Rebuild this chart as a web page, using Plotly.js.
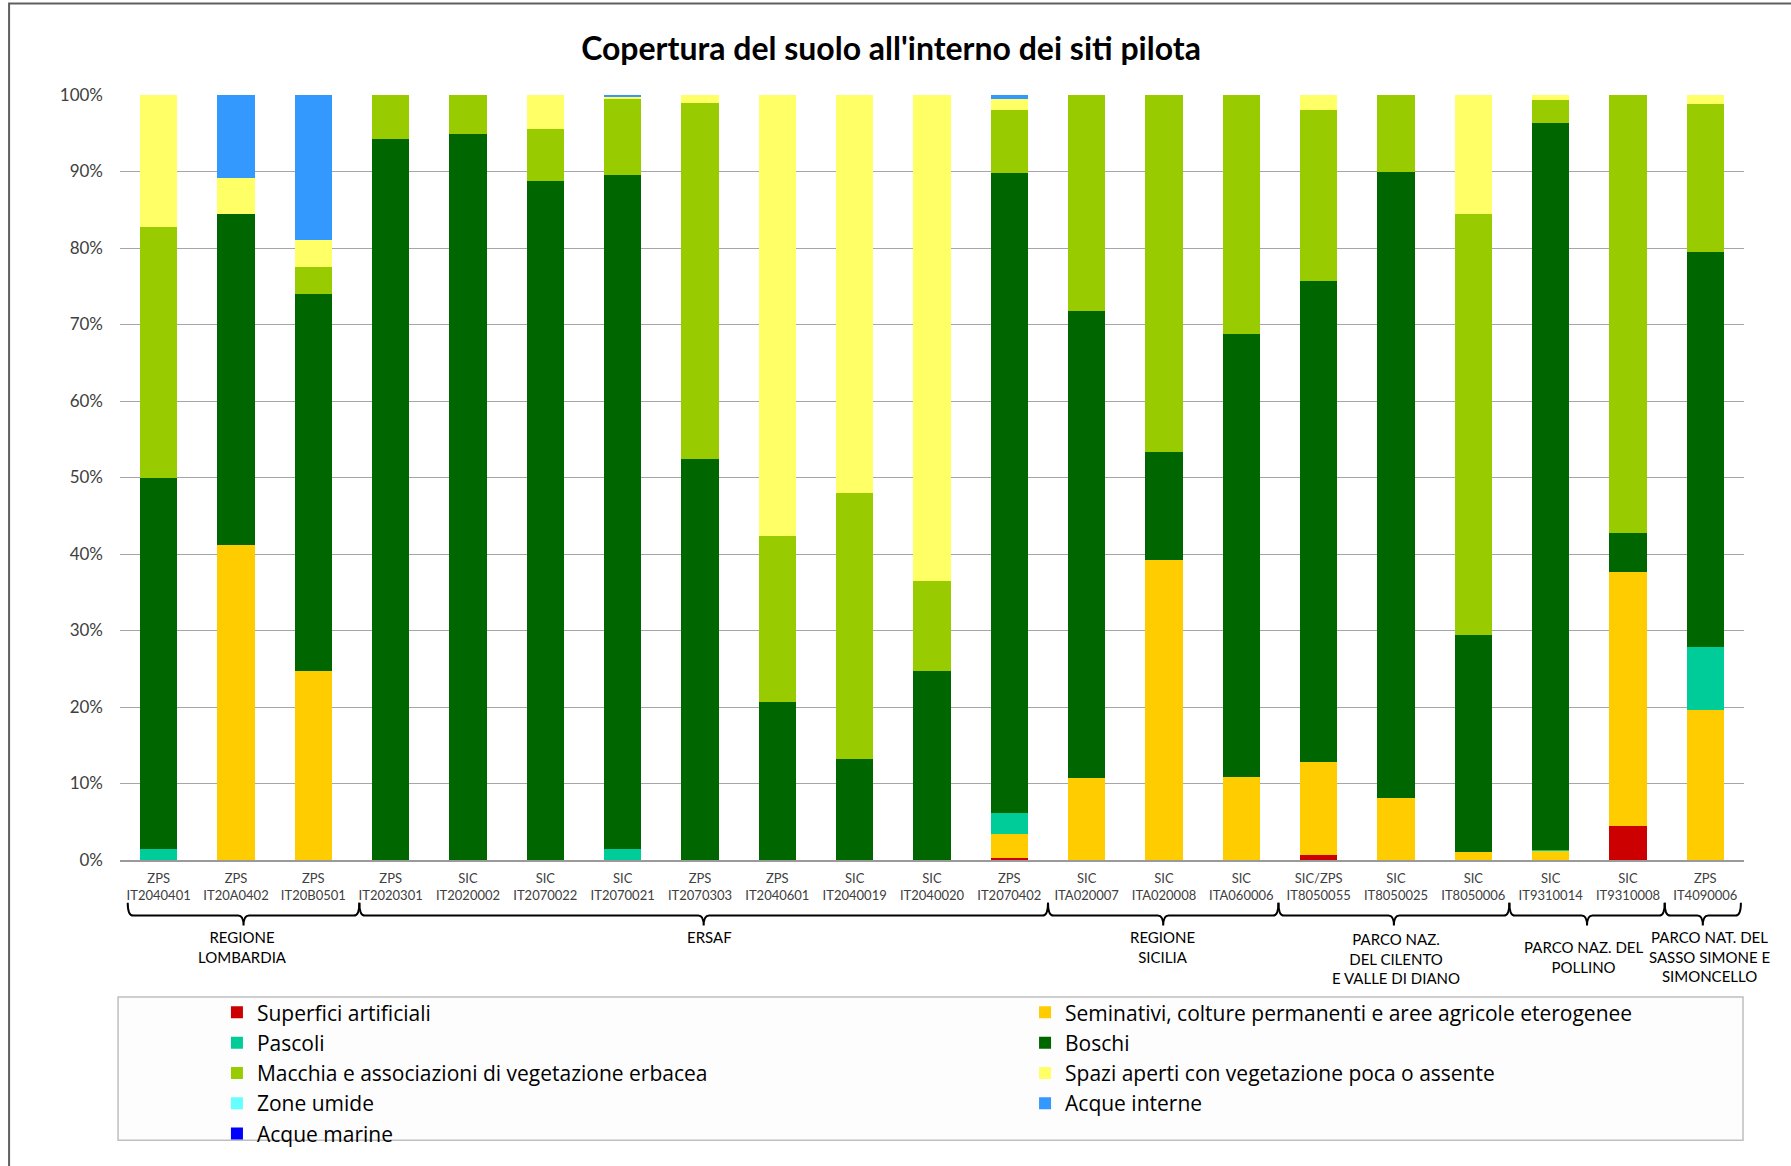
<!DOCTYPE html>
<html>
<head>
<meta charset="utf-8">
<script src="https://cdn.plot.ly/plotly-3.0.1.min.js"></script>
<style>
html,body{margin:0;padding:0;background:#ffffff;}
#chart{width:1791px;height:1166px;}
</style>
</head>
<body>
<div id="chart"></div>
<script>
// ---- DATA ----
const siteTypes = ["ZPS","ZPS","ZPS","ZPS","SIC","SIC","SIC","ZPS","ZPS","SIC","SIC","ZPS","SIC","SIC","SIC","SIC/ZPS","SIC","SIC","SIC","SIC","ZPS"];
const siteCodes = ["IT2040401","IT20A0402","IT20B0501","IT2020301","IT2020002","IT2070022","IT2070021","IT2070303","IT2040601","IT2040019","IT2040020","IT2070402","ITA020007","ITA020008","ITA060006","IT8050055","IT8050025","IT8050006","IT9310014","IT9310008","IT4090006"];

const superficiArtificiali = [0,0,0,0,0,0,0,0,0,0,0,0.3,0,0,0,0.7,0,0,0,4.5,0];
const seminativi          = [0,41.2,24.7,0,0,0,0,0,0,0,0,3.1,10.7,39.2,10.9,12.1,8.1,1.0,1.2,33.2,19.6];
const pascoli             = [1.4,0,0,0,0,0,1.4,0,0,0,0,2.8,0,0,0,0,0,0,0.1,0,8.2];
const boschi              = [48.6,43.2,49.3,94.3,94.9,88.8,88.1,52.4,20.7,13.2,24.7,83.6,61.1,14.1,57.9,62.9,81.9,28.4,95.0,5.0,51.7];
const macchia             = [32.7,0,3.5,5.7,5.1,6.7,10.0,46.6,21.7,34.8,11.8,8.2,28.2,46.7,31.2,22.3,10.0,55.1,3.0,57.3,19.3];
const spaziAperti         = [17.3,4.8,3.5,0,0,4.5,0.3,1.0,57.6,52.0,63.5,1.5,0,0,0,2.0,0,15.5,0.7,0,1.2];
const zoneUmide           = [0,0,0,0,0,0,0,0,0,0,0,0,0,0,0,0,0,0,0,0,0];
const acqueInterne        = [0,10.8,19.0,0,0,0,0.2,0,0,0,0,0.5,0,0,0,0,0,0,0,0,0];
const acqueMarine         = [0,0,0,0,0,0,0,0,0,0,0,0,0,0,0,0,0,0,0,0,0];

const seriesNames = ["Superfici artificiali","Seminativi, colture permanenti e aree agricole eterogenee","Pascoli","Boschi","Macchia e associazioni di vegetazione erbacea","Spazi aperti con vegetazione poca o assente","Zone umide","Acque interne","Acque marine"];
const seriesColors = ["#CC0000","#FFCC00","#00CC99","#006600","#99CC00","#FFFF66","#66FFFF","#3399FF","#0000FF"];
const seriesLegend = ["legend","legend2","legend","legend2","legend","legend2","legend","legend2","legend"];

const groupLabels = ["REGIONE<br>LOMBARDIA","ERSAF","REGIONE<br>SICILIA","PARCO NAZ.<br>DEL CILENTO<br>E VALLE DI DIANO","PARCO NAZ. DEL<br>POLLINO","PARCO NAT. DEL<br>SASSO SIMONE E<br>SIMONCELLO"];
const groupStart = [-0.40, 2.595, 11.50, 14.48, 17.466, 19.475];
const groupEnd   = [2.595, 11.50, 14.48, 17.466, 19.475, 20.46];
const groupLabelX = [1.08, 7.12, 12.98, 16.0, 18.43, 20.06];
const groupLabelY = [-0.0863, -0.0863, -0.0863, -0.0883, -0.0995, -0.0866];

const yTickVals = [0,10,20,30,40,50,60,70,80,90,100];
const yTickText = yTickVals.map(v => v + "%");
const title = "Copertura del suolo all'interno dei siti pilota";

// ---- BUILD ----
const categories = siteCodes.map((c,i) => siteTypes[i] + "<br>" + c);
const allSeries = [superficiArtificiali, seminativi, pascoli, boschi, macchia, spaziAperti, zoneUmide, acqueInterne, acqueMarine];

const FONT = "Lato, 'Liberation Sans', Arial, sans-serif";
const LEGFONT = "'Open Sans', Lato, sans-serif";

const traces = allSeries.map((vals, k) => ({
  type: "bar",
  name: seriesNames[k],
  x: categories,
  y: vals,
  legend: seriesLegend[k],
  marker: {color: seriesColors[k], line: {width: 0}},
  hoverinfo: "name+y"
}));

// curly braces below the axis
const yHook = -0.0558, yLine = -0.0727, yTip = -0.0857;
const shapes = [];
// outer chart border
shapes.push({type:"rect", xref:"paper", yref:"paper", x0:-0.0683, x1:1.04, y0:-0.41, y1:1.1195,
  line:{color:"#5f5f5f", width:2}, fillcolor:"rgba(0,0,0,0)", layer:"below"});
// legend box
shapes.push({type:"rect", xref:"paper", yref:"paper", x0:-0.0012, x1:0.9994, y0:-0.3662, y1:-0.1792,
  line:{color:"#bfbfbf", width:1.5}, fillcolor:"#fdfdfd", layer:"below"});
groupStart.forEach((s, i) => {
  const e = groupEnd[i];
  const c = (s + e) / 2;
  const d = 0.07;
  const p = `M ${s},${yHook} Q ${s},${yLine} ${s+d},${yLine} L ${c-d},${yLine} Q ${c},${yLine} ${c},${yTip} Q ${c},${yLine} ${c+d},${yLine} L ${e-d},${yLine} Q ${e},${yLine} ${e},${yHook}`;
  shapes.push({type:"path", xref:"x", yref:"paper", path:p, line:{color:"#000000", width:2}});
});

const annotations = groupLabels.map((t, i) => ({
  xref:"x", yref:"paper",
  x:groupLabelX[i], y:groupLabelY[i],
  xanchor:"center", yanchor:"top",
  text:t, showarrow:false, align:"center",
  font:{family:FONT, size:15, color:"#000000"}
}));

const layout = {
  width:1791, height:1166,
  paper_bgcolor:"#ffffff", plot_bgcolor:"#ffffff",
  margin:{l:120, r:47, t:95, b:301, pad:0},
  font:{family:FONT, color:"#000000"},
  title:{text:"<b>" + title + "</b>", x:0.4975, xref:"container", xanchor:"center",
         y:0.958, yref:"container", yanchor:"middle",
         font:{family:FONT, size:32, color:"#000000"}},
  barmode:"stack",
  barnorm:"percent",
  bargap:0.52,
  showlegend:true,
  xaxis:{type:"category", range:[-0.5, 20.5], autorange:false, showgrid:false, showline:true, linecolor:"#9a9a9a", linewidth:1.5,
         ticks:"outside", ticklen:6, tickcolor:"rgba(0,0,0,0)",
         tickfont:{family:FONT, size:13, color:"#404040"}, tickangle:0, automargin:false, fixedrange:true},
  yaxis:{range:[0,100], autorange:false, tickmode:"array", tickvals:yTickVals, ticktext:yTickText,
         showgrid:true, gridcolor:"#a6a6a6", gridwidth:1, ticklabelstandoff:16,
         zeroline:false, showline:false, ticks:"", tickfont:{family:FONT, size:17, color:"#404040"},
         automargin:false, fixedrange:true},
  legend:{x:0.0597, xanchor:"left", y:-0.1728, yanchor:"top", orientation:"v",
          bgcolor:"rgba(0,0,0,0)", borderwidth:0, traceorder:"normal",
          font:{family:LEGFONT, size:21, color:"#000000"}},
  legend2:{x:0.5573, xanchor:"left", y:-0.1728, yanchor:"top", orientation:"v",
          bgcolor:"rgba(0,0,0,0)", borderwidth:0, traceorder:"normal",
          font:{family:LEGFONT, size:21, color:"#000000"}},
  shapes:shapes,
  annotations:annotations
};

Plotly.newPlot("chart", traces, layout, {displayModeBar:false, staticPlot:true});
</script>
</body>
</html>
